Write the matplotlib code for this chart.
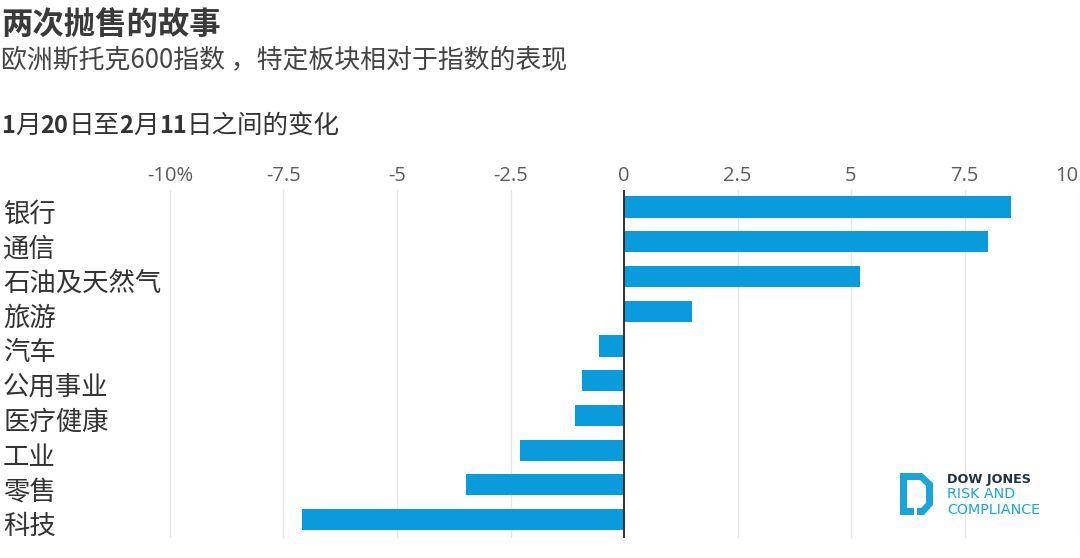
import matplotlib
matplotlib.use("Agg")
import matplotlib.pyplot as plt
from matplotlib.patches import PathPatch
from matplotlib.path import Path

plt.rcParams['font.family'] = ['Noto Sans CJK SC', 'DejaVu Sans']

sectors = ["银行", "通信", "石油及天然气", "旅游", "汽车", "公用事业", "医疗健康", "工业", "零售", "科技"]
changes = [8.52, 8.02, 5.2, 1.5, -0.55, -0.93, -1.08, -2.3, -3.47, -7.1]
tick_vals = [-10, -7.5, -5, -2.5, 0, 2.5, 5, 7.5, 10]
tick_labels = ["-10%", "-7.5", "-5", "-2.5", "0", "2.5", "5", "7.5", "10"]

W, H = 1080, 558
BLUE = "#0a9bdc"
LOGO = "#1ba3dc"

fig = plt.figure(figsize=(W / 100, H / 100), dpi=100, facecolor="white")

def fx(px):
    return px / W

def fy(py):
    return 1 - py / H

# plot area: -10 at px 170, 10 at px 1078
ax = fig.add_axes([fx(170), fy(538), fx(1078 - 170), fy(190) - fy(538)])
ax.patch.set_alpha(0)
ypos = list(range(len(sectors)))
ax.barh(ypos, changes, height=0.61, color=BLUE, zorder=3)
ax.set_xlim(-10, 10)
ax.set_ylim(len(sectors) - 0.47, -0.49)
ax.set_xticks(tick_vals)
ax.set_xticklabels(tick_labels, fontsize=14.5, color="#5c5c5c",
                   fontfamily=["Open Sans", "DejaVu Sans"])
ax.xaxis.tick_top()
ax.tick_params(axis="x", length=0, pad=3)
# last label would run off the figure
ax.xaxis.get_major_ticks()[-1].label2.set_ha("right")
ax.set_yticks([])
for s in ax.spines.values():
    s.set_visible(False)
for t in tick_vals:
    if t == 0:
        ax.axvline(t, color="#222222", lw=1.3, zorder=4)
    else:
        ax.axvline(t, color="#e6e6e6", lw=0.9, zorder=1)

# category labels sit outside the plot area, left aligned to the figure
for y, name in zip(ypos, sectors):
    ax.annotate(name, xy=(0, y), xycoords=ax.get_yaxis_transform(),
                xytext=(fx(3), -5), textcoords=("figure fraction", "offset points"),
                ha="left", va="center", fontsize=19, color="#333333")

fig.text(fx(1), fy(26), "两次抛售的故事", fontsize=22.6, fontweight="bold", color="#3a3a3a",
         ha="left", va="center")
fig.text(fx(1), fy(61), "欧洲斯托克600指数 ，特定板块相对于指数的表现", fontsize=18.65, color="#444444",
         ha="left", va="center")

# mixed weight heading, laid out piece by piece
pieces = [("1", "bold", 17), ("月", "normal", 18.4), ("20", "bold", 17), ("日至", "normal", 18.4),
          ("2", "bold", 17), ("月", "normal", 18.4), ("11", "bold", 17), ("日之间的变化", "normal", 18.4)]
renderer = fig.canvas.get_renderer()
x = 1
for txt, weight, size in pieces:
    t = fig.text(fx(x), fy(126), txt, fontsize=size, fontweight=weight, color="#333333",
                 ha="left", va="center")
    x = t.get_window_extent(renderer).x1

# logo
lx, ly = 900, 473
verts = [(0, 0), (22, 0), (33, 10), (33, 32), (24, 42), (17, 42), (17, 35), (21, 35), (26, 30),
         (26, 13), (20, 7), (7, 7), (7, 35), (14, 35), (14, 42), (0, 42), (0, 0)]
verts = [(fx(lx + a), fy(ly + b)) for a, b in verts]
codes = [Path.MOVETO] + [Path.LINETO] * (len(verts) - 2) + [Path.CLOSEPOLY]
fig.add_artist(PathPatch(Path(verts, codes), facecolor=LOGO, edgecolor="none", transform=fig.transFigure))
logo_font = ["DejaVu Sans"]
fig.text(fx(947), fy(479), "DOW JONES", fontsize=9.2, fontweight="bold", color="#1f3340",
         family=logo_font, va="center", ha="left")
fig.text(fx(947), fy(494), "RISK AND", fontsize=10.3, color=LOGO, family=logo_font, va="center", ha="left")
fig.text(fx(947), fy(510), "COMPLIANCE", fontsize=10.3, color=LOGO, family=logo_font, va="center", ha="left")

fig.savefig("out.png", dpi=100)
